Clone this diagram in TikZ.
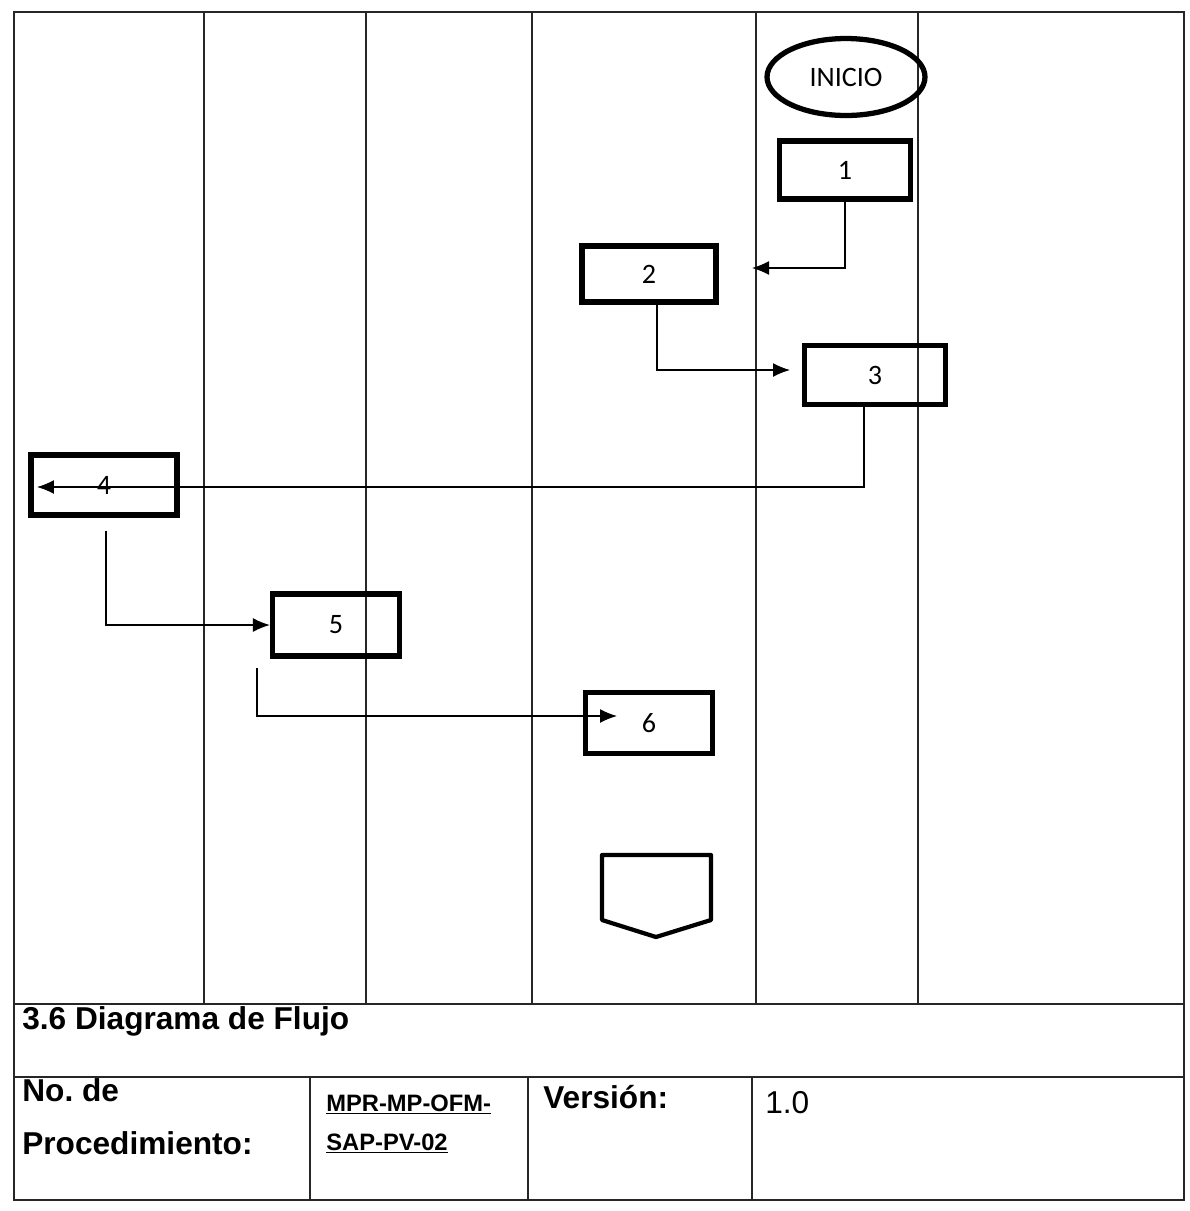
\documentclass[tikz,border=0pt]{standalone}
\usepackage{fontspec}
\setmainfont{Liberation Sans}
\newfontfamily\calib{Carlito}
\usetikzlibrary{arrows.meta,positioning,shapes.geometric}

\begin{document}
\begin{tikzpicture}[x=0.02cm,y=-0.02cm,>={Latex[length=3.4mm,width=2.8mm]}, every node/.style={font=\calib\fontsize{16}{19}\selectfont}]
\tikzstyle{blk}=[draw, line width=3pt, minimum width=2.7cm, minimum height=1.2cm, inner sep=0pt]
\tikzstyle{lane}=[line width=0.8pt, black!85]
\tikzstyle{flow}=[->, line width=0.8pt]
\tikzstyle{pie}=[font=\bfseries\fontsize{18}{20}\selectfont, anchor=base west, inner sep=0pt]
\useasboundingbox (0,0) rectangle (1190,1211);
\draw[lane] (14,12) rectangle (1184,1200);
\draw[lane] (14,1004) -- (1184,1004) (14,1077) -- (1184,1077);
\foreach \x in {204,366,532,756,918} \draw[lane] (\x,12) -- (\x,1004);
\foreach \x in {310,528,752} \draw[lane] (\x,1077) -- (\x,1200);
\node[draw, ellipse, line width=3pt, minimum width=3.16cm, minimum height=1.54cm, inner sep=0pt] (ini) at (846,77) {INICIO};
\node[blk, minimum width=2.62cm, minimum height=1.16cm] (p1) at (845,170) {1};
\node[blk, minimum width=2.68cm, minimum height=1.12cm] (p2) at (649,274) {2};
\node[blk, minimum width=2.82cm, minimum height=1.18cm] (p3) at (875,375) {3};
\node[blk, minimum width=2.92cm, minimum height=1.2cm] (p4) at (104,485) {4};
\node[blk, minimum width=2.54cm, minimum height=1.24cm] (p5) at (336,625) {5};
\node[blk, minimum width=2.54cm, minimum height=1.22cm] (p6) at (649,723) {6};
\draw[line width=2.4pt, line join=round] (602,855) -- (711,855) -- (711,920) -- (656,937) -- (602,920) -- cycle;
\coordinate (f2) at (752,268);
\coordinate (f3) at (790,370);
\coordinate (f4) at (37,487);
\coordinate (s6) at (257,668);
\coordinate (f6) at (617,716);
\draw[flow] (p1.south) |- (f2);
\draw[flow] ([xshift=0.16cm]p2.south) |- (f3);
\draw[flow] ([xshift=-0.22cm]p3.south) |- (f4);
\draw[flow, shorten <=0.26cm] ([xshift=0.04cm]p4.south) |- (p5.west);
\draw[flow] (s6) |- (f6);
\node[pie] (tit) at (22,1029) {3.6 Diagrama de Flujo};
\node[pie] (no) at (22,1101) {No.\ de};
\node[pie] (proc) at (22,1154) {Procedimiento:};
\node[pie, font=\bfseries\fontsize{13.5}{16}\selectfont] (cod1) at (326,1111) {\underline{MPR-MP-OFM-}};
\node[pie, font=\bfseries\fontsize{13.5}{16}\selectfont] (cod2) at (326,1150) {\underline{SAP-PV-02}};
\node[pie] (ver) at (543,1108) {Versión:};
\node[pie, font=\fontsize{18}{20}\selectfont] (num) at (765,1113) {1.0};
\end{tikzpicture}
\end{document}
